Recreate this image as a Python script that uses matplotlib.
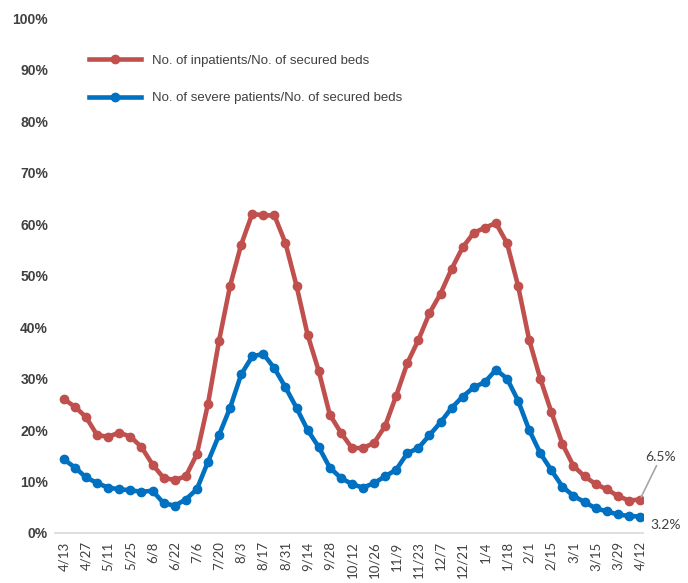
import numpy as np
from matplotlib import pyplot as plt

# weekly dates, only every other one gets a tick label
tick_labels = ["4/13", "4/27", "5/11", "5/25", "6/8", "6/22", "7/6", "7/20",
               "8/3", "8/17", "8/31", "9/14", "9/28", "10/12", "10/26", "11/9",
               "11/23", "12/7", "12/21", "1/4", "1/18", "2/1", "2/15", "3/1",
               "3/15", "3/29", "4/12"]

inpatients = [26.0, 24.5, 22.5, 19.0, 18.7, 19.5, 18.7, 16.7, 13.3, 10.7,
              10.3, 11.0, 15.3, 25.0, 37.3, 48.0, 56.0, 62.0, 61.7, 61.7,
              56.3, 48.0, 38.5, 31.5, 23.0, 19.5, 16.5, 16.5, 17.5, 20.8,
              26.7, 33.0, 37.5, 42.7, 46.5, 51.3, 55.5, 58.3, 59.3, 60.2,
              56.3, 48.0, 37.5, 30.0, 23.5, 17.3, 13.0, 11.0, 9.5, 8.5,
              7.2, 6.3, 6.5]

severe = [14.3, 12.7, 10.8, 9.7, 8.8, 8.5, 8.3, 8.0, 8.2, 5.8,
          5.3, 6.5, 8.5, 13.8, 19.0, 24.3, 30.8, 34.3, 34.8, 32.0,
          28.3, 24.3, 20.0, 16.7, 12.7, 10.7, 9.5, 8.8, 9.7, 11.0,
          12.3, 15.5, 16.5, 19.0, 21.5, 24.3, 26.5, 28.3, 29.3, 31.7,
          30.0, 25.7, 20.0, 15.5, 12.2, 9.0, 7.2, 6.0, 4.8, 4.2,
          3.6, 3.3, 3.2]

red = "#C0504D"
blue = "#0070C0"
x = np.arange(len(inpatients))

fig = plt.figure(figsize=(6.88, 5.83), dpi=100)
ax = fig.add_axes([0.08, 0.0858, 0.855, 0.883])

ax.plot(x, inpatients, color=red, lw=3.3, marker="o", ms=6,
        label="No. of inpatients/No. of secured beds")
ax.plot(x, severe, color=blue, lw=3.3, marker="o", ms=6,
        label="No. of severe patients/No. of secured beds")

ax.set_xlim(-0.8, 52.3)
ax.set_ylim(0, 100)
ax.set_yticks(np.arange(0, 101, 10))
ax.set_yticklabels([f"{v}%" for v in range(0, 101, 10)],
                   fontsize=10, fontweight="bold", color="#404040",
                   family="Liberation Sans")
ax.set_xticks(x[::2])
ax.set_xticklabels(tick_labels, rotation=90, fontsize=9.5, color="#404040",
                   family="Lato")
ax.tick_params(length=0, pad=6)
ax.tick_params(axis="y", pad=5)

for s in ["top", "right", "left"]:
    ax.spines[s].set_visible(False)
ax.spines["bottom"].set_color("#D9D9D9")
ax.spines["bottom"].set_linewidth(1.2)

leg = ax.legend(loc="upper left", bbox_to_anchor=(0.037, 0.952), frameon=False,
                handlelength=4.0, labelspacing=1.9,
                prop={"family": "Liberation Sans", "size": 9.5})
for t in leg.get_texts():
    t.set_color("#404040")

ax.annotate("6.5%", xy=(52, inpatients[-1]), xytext=(52.5, 14),
            fontsize=10, color="#404040", family="Lato",
            arrowprops=dict(arrowstyle="-", color="#A6A6A6", lw=1.2,
                            shrinkA=0, shrinkB=2),
            annotation_clip=False)
ax.text(52.9, 1.5, "3.2%", fontsize=10, color="#404040", family="Lato",
        va="center", clip_on=False)

fig.savefig("out.png", dpi=100)
